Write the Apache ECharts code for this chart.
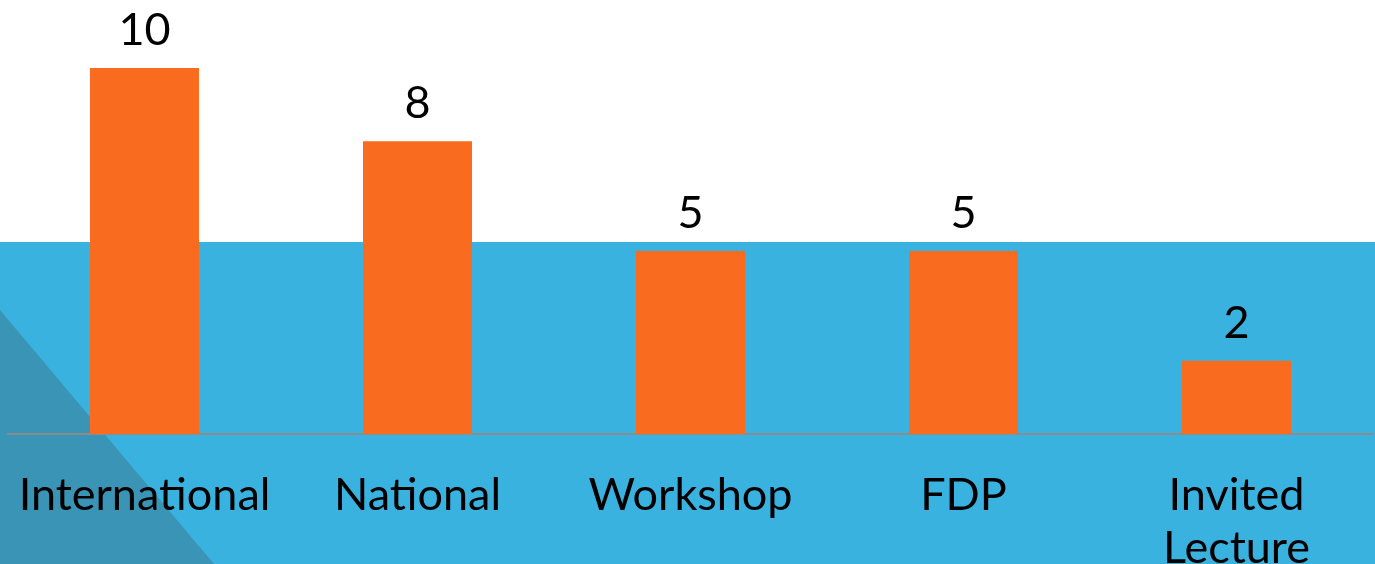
<!DOCTYPE html>
<html>
<head>
<meta charset="utf-8">
<script src="https://cdn.jsdelivr.net/npm/echarts@6/dist/echarts.min.js"></script>
<style>
  html, body { margin: 0; padding: 0; background: #fff; }
  #main { width: 1375px; height: 564px; }
</style>
</head>
<body>
<div id="main"></div>
<script>
const categories = ['International', 'National', 'Workshop', 'FDP', 'Invited\nLecture'];
const counts = [10, 8, 5, 5, 2];

const chart = echarts.init(document.getElementById('main'));

const option = {
    backgroundColor: '#ffffff',
    animation: false,
    // slide background: blue band and darker corner triangle
    graphic: [
        {
            type: 'rect', z: -10, silent: true,
            shape: { x: 0, y: 242, width: 1375, height: 322 },
            style: { fill: '#3AB2E0' }
        },
        {
            type: 'polygon', z: -9, silent: true,
            shape: { points: [[0, 310], [0, 564], [214, 564]] },
            style: { fill: '#3A94B5' }
        }
    ],
    grid: { left: 8, right: 2, top: 68, bottom: 130, containLabel: false, outerBoundsMode: 'none' },
    xAxis: {
        type: 'category',
        data: categories,
        axisLine: { lineStyle: { color: '#8C8C8C', width: 2 } },
        axisTick: { show: false },
        axisLabel: {
            color: '#000', fontFamily: 'Lato', fontSize: 45,
            margin: 35, lineHeight: 53, interval: 0
        }
    },
    yAxis: {
        type: 'value', min: 0, max: 10,
        show: false, splitLine: { show: false }
    },
    series: [{
        type: 'bar',
        data: counts,
        barWidth: 109,
        itemStyle: { color: '#F96B1E' },
        label: {
            show: true, position: 'top', distance: 15,
            color: '#000', fontFamily: 'Lato', fontSize: 45
        }
    }]
};

chart.setOption(option);
</script>
</body>
</html>
